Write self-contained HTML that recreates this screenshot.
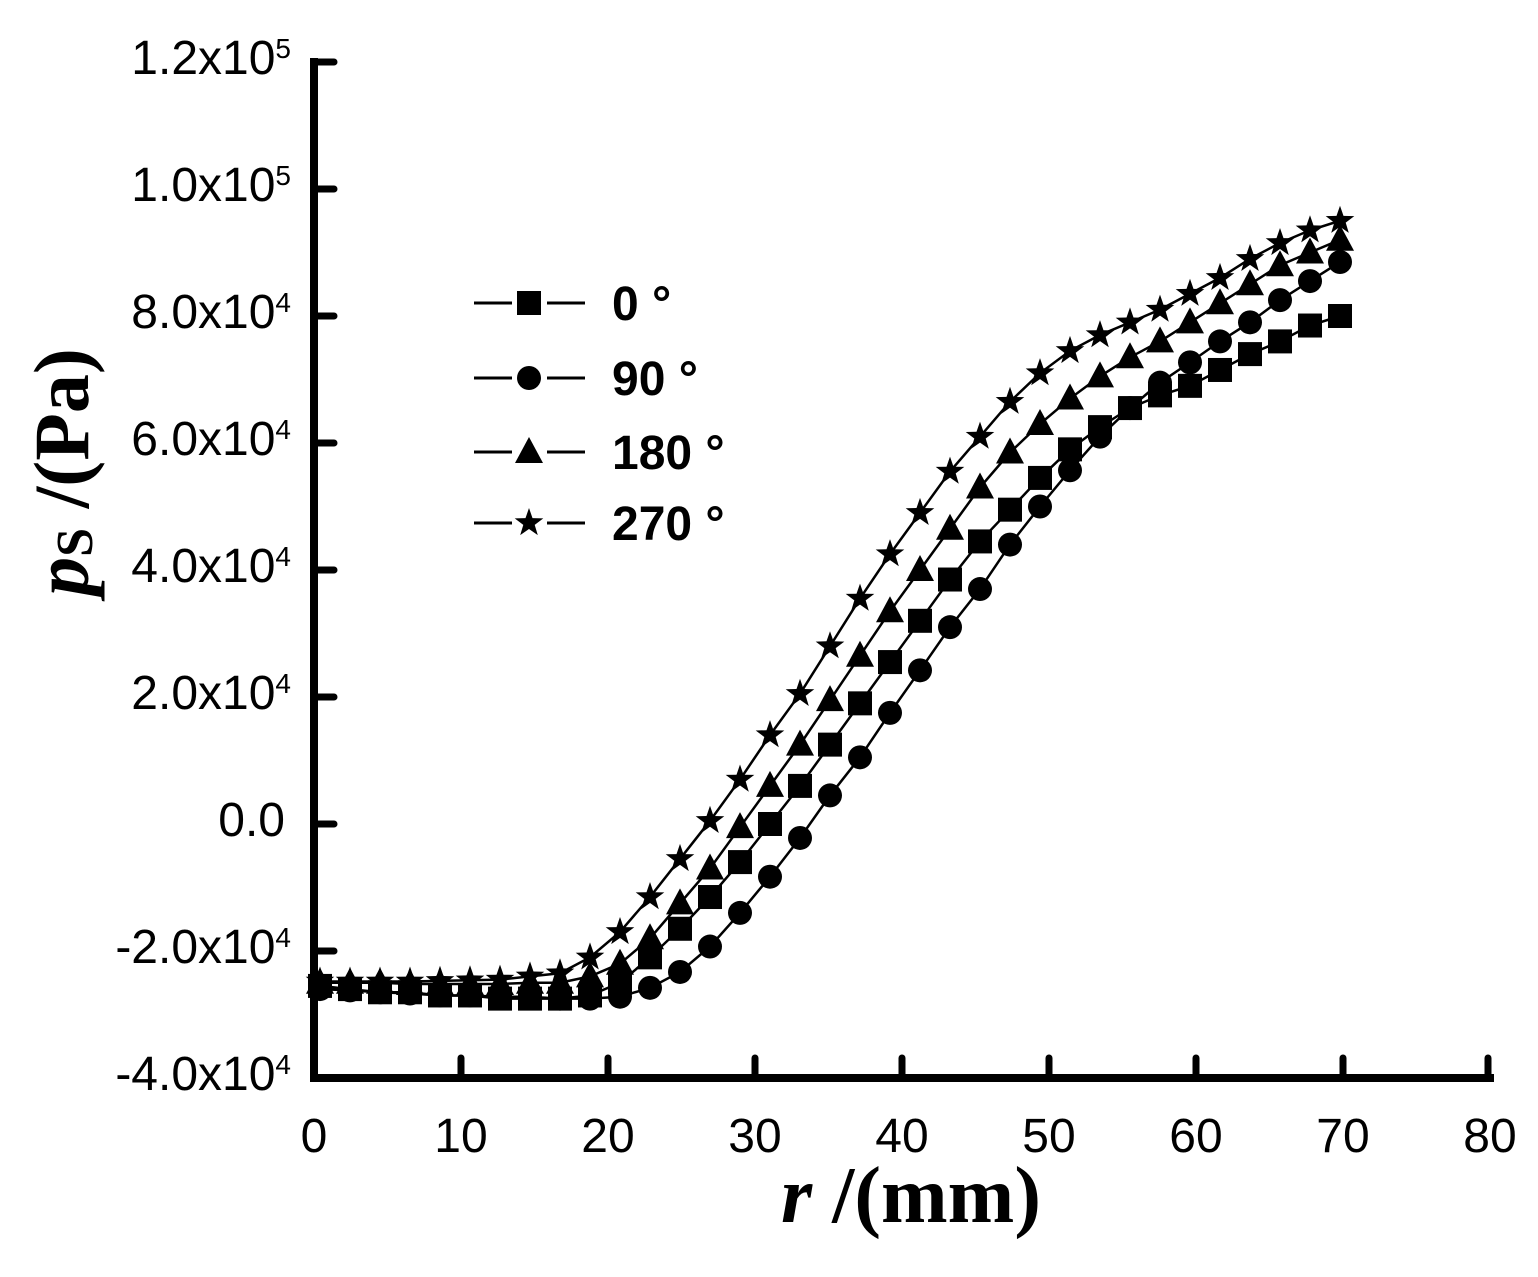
<!DOCTYPE html>
<html><head><meta charset="utf-8"><style>body{margin:0;background:#fff}svg{display:block}</style></head>
<body>
<svg id="s" width="1538" height="1277" xmlns="http://www.w3.org/2000/svg" font-family="Liberation Sans, Arial, sans-serif">
<g id="ax" stroke="#000" stroke-width="8" fill="none" stroke-linecap="square">
<path d="M314,62 L314,1078 L1490,1078"/>
</g>
<g id="ticks" stroke="#000" stroke-width="7" stroke-linecap="round"></g>
<g id="lab" font-size="48" fill="#000"></g>
<g id="ser"></g>
<g id="leg"></g>
<text x="0" y="0" transform="translate(88,472) rotate(-90)" text-anchor="middle" font-family="Liberation Serif, serif" font-weight="bold" font-size="78"><tspan font-style="italic">p</tspan><tspan font-size="52" dy="4">S</tspan><tspan dy="-4"> /(Pa)</tspan></text>
<text x="911" y="1222" text-anchor="middle" font-family="Liberation Serif, serif" font-weight="bold" font-size="80"><tspan font-style="italic">r</tspan> /(mm)</text>
</svg>
<script>
const NS="http://www.w3.org/2000/svg";
function el(t,a,p){const e=document.createElementNS(NS,t);for(const k in a)e.setAttribute(k,a[k]);p.appendChild(e);return e;}
const Y=v=>1078-(v+4)*(1016/16);
const tk=document.getElementById('ticks'),lab=document.getElementById('lab');
for(let i=0;i<=8;i++){const v=-4+2*i,y=Y(v);
 if(i>0)el('line',{x1:318,y1:y,x2:334,y2:y},tk);
 if(v===0){const t=el('text',{x:285,y:y+12,'text-anchor':'end'},lab);t.textContent="0.0";continue;}
 const big=Math.abs(v)>=10;
 const t=el('text',{x:291,y:y+12,'text-anchor':'end'},lab);
 t.textContent=(big?(v/10).toFixed(1):v.toFixed(1))+"x10";
 const e=el('tspan',{dy:-16,'font-size':28},t);e.textContent=big?"5":"4";
}
for(let i=0;i<=8;i++){const x=314+i*147;
 if(i>0&&i<8)el('line',{x1:x,y1:1074,x2:x,y2:1058},tk);
 if(i==8)el('line',{x1:1488,y1:1074,x2:1488,y2:1058},tk);
 const t=el('text',{x:x,y:1152,'text-anchor':'middle'},lab);t.textContent=i*10;}
const S=[-2.55,-2.6,-2.65,-2.65,-2.7,-2.7,-2.75,-2.75,-2.75,-2.7,-2.5,-2.1,-1.65,-1.15,-0.6,0,0.6,1.25,1.9,2.55,3.2,3.85,4.45,4.95,5.45,5.9,6.25,6.55,6.75,6.9,7.15,7.4,7.6,7.85,8.0];
const C=[-2.6,-2.62,-2.65,-2.67,-2.7,-2.7,-2.72,-2.72,-2.75,-2.75,-2.72,-2.58,-2.33,-1.93,-1.4,-0.83,-0.22,0.45,1.05,1.75,2.42,3.1,3.7,4.4,5.0,5.57,6.1,6.55,6.95,7.27,7.6,7.9,8.25,8.55,8.85];
const T=[-2.5,-2.5,-2.5,-2.52,-2.52,-2.52,-2.52,-2.5,-2.5,-2.4,-2.2,-1.8,-1.25,-0.7,-0.05,0.6,1.25,1.95,2.65,3.35,4.0,4.65,5.3,5.85,6.3,6.7,7.05,7.35,7.6,7.9,8.2,8.5,8.8,9.0,9.2];
const R=[-2.48,-2.48,-2.48,-2.48,-2.47,-2.46,-2.45,-2.4,-2.35,-2.1,-1.7,-1.15,-0.55,0.05,0.7,1.4,2.05,2.8,3.55,4.25,4.9,5.55,6.1,6.65,7.1,7.45,7.7,7.9,8.1,8.35,8.6,8.9,9.15,9.35,9.5];
const ser=document.getElementById('ser');
function mark(type,x,y,g,sc){sc=sc||1;
 if(type==0)el('rect',{x:x-12*sc,y:y-12*sc,width:24*sc,height:24*sc},g);
 else if(type==1)el('circle',{cx:x,cy:y,r:12*sc},g);
 else if(type==2)el('polygon',{points:`${x},${y-15*sc} ${x+14*sc},${y+11*sc} ${x-14*sc},${y+11*sc}`},g);
 else{let p=[];for(let i=0;i<10;i++){const a=-Math.PI/2+i*Math.PI/5,rr=(i%2?6:15)*sc;p.push((x+rr*Math.cos(a)).toFixed(1)+','+(y+rr*Math.sin(a)).toFixed(1));}el('polygon',{points:p.join(' ')},g);}
}
[S,C,T,R].forEach((d,t)=>{
 const pts=d.map((v,k)=>[320+30*k,Y(v)]);
 el('polyline',{points:pts.map(p=>p.join(',')).join(' '),fill:'none',stroke:'#000','stroke-width':2.5},ser);
 const g=el('g',{fill:'#000'},ser);pts.forEach(p=>mark(t,p[0],p[1],g));
});
const leg=document.getElementById('leg');const names=["0 °","90 °","180 °","270 °"],ly=[303,378,452,523];
ly.forEach((y,i)=>{el('line',{x1:474,y1:y,x2:512,y2:y,stroke:'#000','stroke-width':3},leg);
 el('line',{x1:547,y1:y,x2:585,y2:y,stroke:'#000','stroke-width':3},leg);
 const g=el('g',{fill:'#000'},leg);mark(i,529,y,g);
 const t=el('text',{x:612,y:y+17,'font-size':48,'font-weight':'bold'},leg);t.textContent=names[i];});
</script>
</body></html>
